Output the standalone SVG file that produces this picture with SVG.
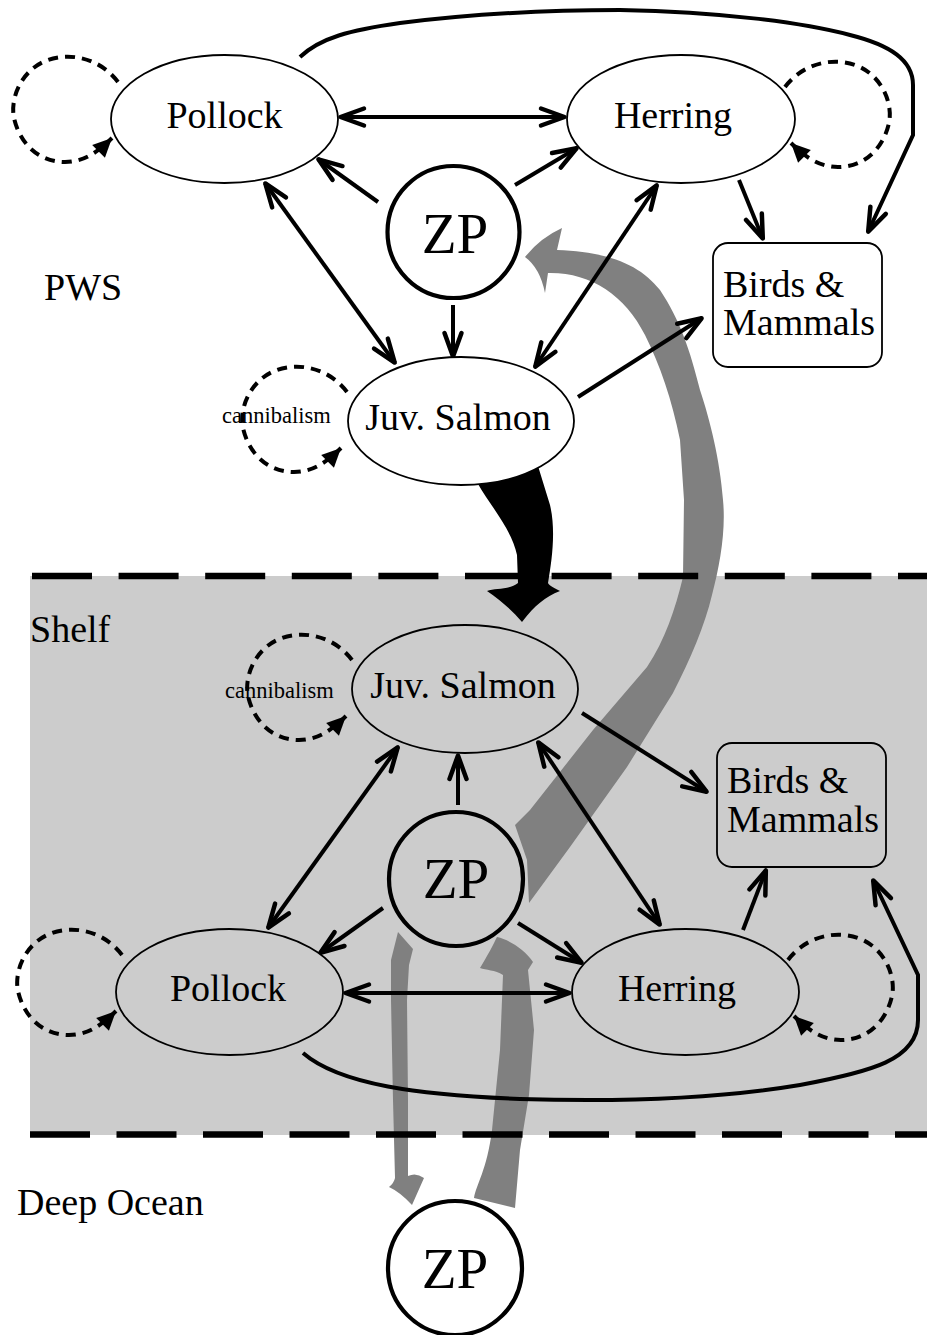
<svg xmlns="http://www.w3.org/2000/svg" width="927" height="1335" viewBox="0 0 927 1335">
<style>
text{font-family:"Liberation Serif","Times New Roman",serif;fill:#000}
.lbl{font-size:38px}
.zp{font-size:57px}
.small{font-size:22.5px}
.node{stroke:#000;stroke-width:1.8}
.zpc{stroke:#000;stroke-width:4.2}
.con{fill:none;stroke:#000;stroke-width:4}
.loop{fill:none;stroke:#000;stroke-width:4;stroke-dasharray:10 7}
.bound{stroke:#000;stroke-width:6.5}
.flow{fill:#808080}
</style>
<defs>
<marker id="ah" markerUnits="userSpaceOnUse" markerWidth="36" markerHeight="28" viewBox="-30 -14 36 28" refX="0" refY="0" orient="auto-start-reverse" overflow="visible">
<path d="M-24,-8.5 L-0.5,0 L-24,8.5" fill="none" stroke="#000" stroke-width="4.5" stroke-linejoin="round" stroke-linecap="round"/>
</marker>
<marker id="tri" markerUnits="userSpaceOnUse" markerWidth="26" markerHeight="22" viewBox="-22 -11 26 22" refX="0" refY="0" orient="auto" overflow="visible">
<path d="M-19,-9 L0,0 L-19,9 Z" fill="#000"/>
</marker>
</defs>

<g id="shelf-region">
<rect x="30" y="576" width="897" height="559" fill="#cccccc"/>
</g>

<g id="flows">
<path class="flow" d="M557,250 L562,228 Q540,238 525,257 Q540,268 545,293 L548,273 C590,272 625,295 645,335 C660,365 672,400 680,440 L684,500 L683,577 C675,610 665,640 647,667 L593,730 L530,810 L515,825 L527,860 L529,903 L570,847 L627,767 L673,693 C690,660 705,625 712,595 C720,565 726,530 723,500 C720,460 710,420 700,390 C690,350 680,320 660,290 C640,265 610,252 557,250 Z"/>
<path class="flow" d="M398,932 L413,949 L409,965 L407,1000 L408,1100 L408,1176 Q416,1172 424,1178 L412,1205 Q400,1192 389,1187 Q394,1183 395,1178 L393,1100 L391,1000 L391,960 Z"/>
<path class="flow" d="M474,1198 C476,1185 487,1170 492,1130 L500,1050 L503,975 C495,970 486,970 480,968 C488,955 493,945 497,937 C510,940 525,950 533,962 L528,970 L534,1030 L529,1095 L520,1150 L515,1208 Z"/>
<path fill="#000" d="M478,484 C490,505 512,530 517,555 L518,583 C510,590 495,588 487,591 C500,600 512,610 522,622 C535,605 545,597 560,591 C555,588 549,586 548,583 C552,560 556,530 550,505 L538,466 Z"/>
</g>

<g id="boundaries">
<line class="bound" x1="32" y1="576" x2="927" y2="576" stroke-dasharray="60 26.6"/>
<line class="bound" x1="30" y1="1134.5" x2="927" y2="1134.5" stroke-dasharray="60 26.5"/>
</g>

<g id="connectors">
<path class="con" marker-start="url(#ah)" marker-end="url(#ah)" d="M340,117 L565,117"/>
<path class="con" marker-end="url(#ah)" d="M378,202 L318,159"/>
<path class="con" marker-end="url(#ah)" d="M515,185 L577,148"/>
<path class="con" marker-start="url(#ah)" marker-end="url(#ah)" d="M265,183 L395,363"/>
<path class="con" marker-end="url(#ah)" d="M453,305 L453,357"/>
<path class="con" marker-start="url(#ah)" marker-end="url(#ah)" d="M657,185 L535,367"/>
<path class="con" marker-end="url(#ah)" d="M739,180 L763,239"/>
<path class="con" marker-end="url(#ah)" d="M578,397 L702,318"/>
<path class="con" marker-end="url(#ah)" d="M300,57 C320,38 350,30 400,23 C480,13 560,10 620,10 C720,12 800,22 850,35 C890,45 913,60 913,85 L913,135 L868,232"/>
<path class="con" marker-end="url(#ah)" d="M458,805 L458,755"/>
<path class="con" marker-start="url(#ah)" marker-end="url(#ah)" d="M268,928 L398,747"/>
<path class="con" marker-end="url(#ah)" d="M383,908 L320,953"/>
<path class="con" marker-start="url(#ah)" marker-end="url(#ah)" d="M538,742 L660,925"/>
<path class="con" marker-end="url(#ah)" d="M582,713 L707,792"/>
<path class="con" marker-end="url(#ah)" d="M518,923 L582,963"/>
<path class="con" marker-start="url(#ah)" marker-end="url(#ah)" d="M345,993 L570,993"/>
<path class="con" marker-end="url(#ah)" d="M743,930 L766,870"/>
<path class="con" marker-end="url(#ah)" d="M303,1053 C340,1085 420,1095 520,1099 C650,1103 740,1095 800,1085 C870,1072 918,1060 918,1020 L918,975 L873,880"/>
<path class="loop" marker-end="url(#tri)" transform="translate(118,82)" d="M0,0 C-18,-24 -48,-30 -70,-22 C-98,-12 -108,18 -104,36 C-98,63 -78,80 -53,80 C-33,80 -18,68 -6,56"/>
<path class="loop" marker-end="url(#tri)" transform="translate(785,87)" d="M0,0 C18,-24 48,-30 70,-22 C98,-12 108,18 104,36 C98,63 78,80 53,80 C33,80 18,68 6,56"/>
<path class="loop" marker-end="url(#tri)" transform="translate(347,392)" d="M0,0 C-18,-24 -48,-30 -70,-22 C-98,-12 -108,18 -104,36 C-98,63 -78,80 -53,80 C-33,80 -18,68 -6,56"/>
<path class="loop" marker-end="url(#tri)" transform="translate(352,660)" d="M0,0 C-18,-24 -48,-30 -70,-22 C-98,-12 -108,18 -104,36 C-98,63 -78,80 -53,80 C-33,80 -18,68 -6,56"/>
<path class="loop" marker-end="url(#tri)" transform="translate(122,955)" d="M0,0 C-18,-24 -48,-30 -70,-22 C-98,-12 -108,18 -104,36 C-98,63 -78,80 -53,80 C-33,80 -18,68 -6,56"/>
<path class="loop" marker-end="url(#tri)" transform="translate(788,960)" d="M0,0 C18,-24 48,-30 70,-22 C98,-12 108,18 104,36 C98,63 78,80 53,80 C33,80 18,68 6,56"/>
</g>

<g id="region-labels">
<text class="lbl" x="44" y="300">PWS</text>
<text class="lbl" x="30" y="642">Shelf</text>
<text class="lbl" x="17" y="1215">Deep Ocean</text>
<text class="small" x="222" y="423">cannibalism</text>
<text class="small" x="225" y="698">cannibalism</text>
</g>

<g id="pws-pollock"><ellipse class="node" cx="224.5" cy="119" rx="113.5" ry="64" fill="#fff"/><text class="lbl" x="224.5" y="128" text-anchor="middle">Pollock</text></g>
<g id="pws-herring"><ellipse class="node" cx="681" cy="119" rx="114" ry="64" fill="#fff"/><text class="lbl" x="673" y="128" text-anchor="middle">Herring</text></g>
<g id="pws-zp"><circle class="zpc" cx="453.5" cy="232" r="66" fill="#fff"/><text class="zp" x="455" y="253" text-anchor="middle">ZP</text></g>
<g id="pws-juvsalmon"><ellipse class="node" cx="461" cy="421" rx="113" ry="64" fill="#fff"/><text class="lbl" x="458" y="430" text-anchor="middle">Juv. Salmon</text></g>
<g id="pws-birds"><rect class="node" x="713" y="243" width="169" height="124" rx="15" fill="#fff"/><text class="lbl" x="723" y="297">Birds &amp;</text><text class="lbl" x="723" y="335">Mammals</text></g>

<g id="shelf-juvsalmon"><ellipse class="node" cx="465" cy="689" rx="113" ry="64" fill="#cccccc"/><text class="lbl" x="463" y="698" text-anchor="middle">Juv. Salmon</text></g>
<g id="shelf-birds"><rect class="node" x="717" y="743" width="169" height="124" rx="15" fill="#cccccc"/><text class="lbl" x="727" y="793">Birds &amp;</text><text class="lbl" x="727" y="832">Mammals</text></g>
<g id="shelf-zp"><circle class="zpc" cx="456" cy="879" r="67" fill="#cccccc"/><text class="zp" x="456" y="898" text-anchor="middle">ZP</text></g>
<g id="shelf-pollock"><ellipse class="node" cx="229.5" cy="992" rx="113.5" ry="63" fill="#cccccc"/><text class="lbl" x="228" y="1001" text-anchor="middle">Pollock</text></g>
<g id="shelf-herring"><ellipse class="node" cx="685.5" cy="992" rx="113.5" ry="63" fill="#cccccc"/><text class="lbl" x="677" y="1001" text-anchor="middle">Herring</text></g>

<g id="deep-zp"><circle class="zpc" cx="455" cy="1268" r="67" fill="#fff"/><text class="zp" x="455" y="1288" text-anchor="middle">ZP</text></g>
</svg>
